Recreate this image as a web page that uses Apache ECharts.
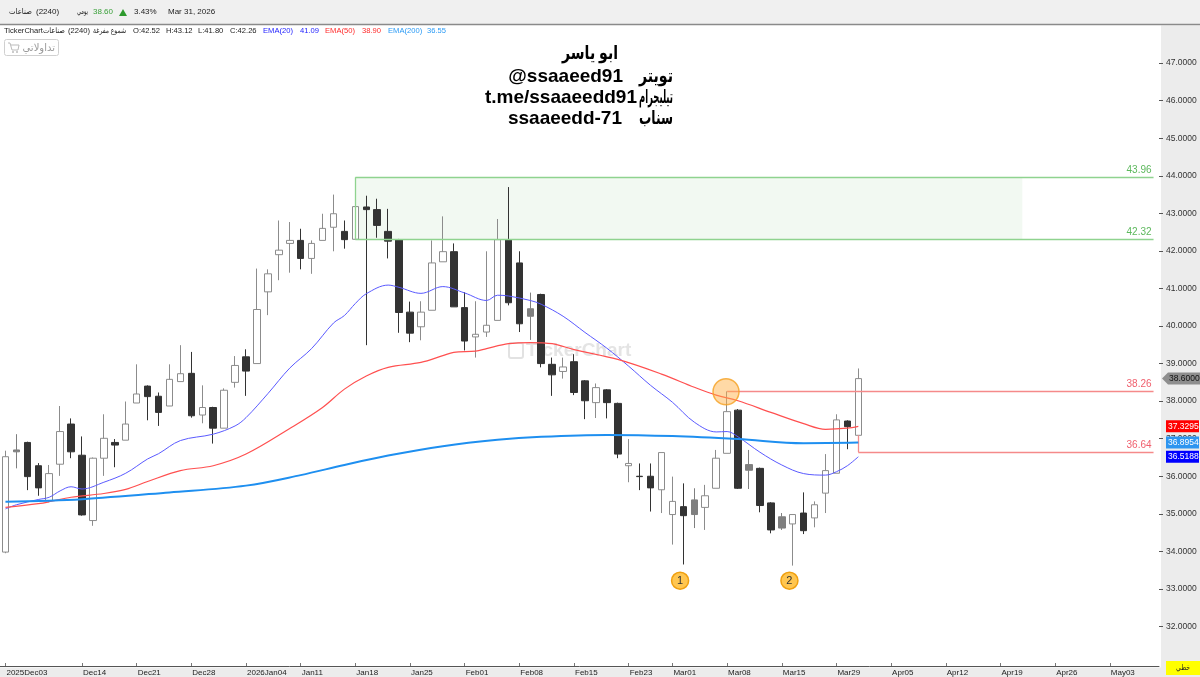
<!DOCTYPE html>
<html><head><meta charset="utf-8">
<script src="https://cdn.jsdelivr.net/npm/echarts@6/dist/echarts.min.js"></script>
<style>html,body{margin:0;padding:0;background:#fff}#c{width:1200px;height:677px}</style>
</head><body><div id="c"></div>
<script>
// ---------- DATA ----------
const dates = [
'2025-12-03','2025-12-04','2025-12-07','2025-12-08','2025-12-09','2025-12-10','2025-12-11',
'2025-12-14','2025-12-15','2025-12-16','2025-12-17','2025-12-18',
'2025-12-21','2025-12-22','2025-12-23','2025-12-24','2025-12-25',
'2025-12-28','2025-12-29','2025-12-30','2025-12-31','2026-01-01',
'2026-01-04','2026-01-05','2026-01-06','2026-01-07','2026-01-08',
'2026-01-11','2026-01-12','2026-01-13','2026-01-14','2026-01-15',
'2026-01-18','2026-01-19','2026-01-20','2026-01-21','2026-01-22',
'2026-01-25','2026-01-26','2026-01-27','2026-01-28','2026-01-29',
'2026-02-01','2026-02-02','2026-02-03','2026-02-04','2026-02-05',
'2026-02-08','2026-02-09','2026-02-10','2026-02-11','2026-02-12',
'2026-02-15','2026-02-16','2026-02-17','2026-02-18','2026-02-19',
'2026-02-23','2026-02-24','2026-02-25','2026-02-26',
'2026-03-01','2026-03-02','2026-03-03','2026-03-04','2026-03-05',
'2026-03-08','2026-03-09','2026-03-10','2026-03-11','2026-03-12',
'2026-03-15','2026-03-16','2026-03-17','2026-03-18','2026-03-19',
'2026-03-29','2026-03-30','2026-03-31',
'2026-04-01','2026-04-02',
'2026-04-05','2026-04-06','2026-04-07','2026-04-08','2026-04-09',
'2026-04-12','2026-04-13','2026-04-14','2026-04-15','2026-04-16',
'2026-04-19','2026-04-20','2026-04-21','2026-04-22','2026-04-23',
'2026-04-26','2026-04-27','2026-04-28','2026-04-29','2026-04-30',
'2026-05-03','2026-05-04','2026-05-05','2026-05-06','2026-05-07'
];
const tickDates = ['2025-12-03','2025-12-14','2025-12-21','2025-12-28','2026-01-04','2026-01-11','2026-01-18','2026-01-25','2026-02-01','2026-02-08','2026-02-15','2026-02-23','2026-03-01','2026-03-08','2026-03-15','2026-03-29','2026-04-05','2026-04-12','2026-04-19','2026-04-26','2026-05-03'];
const tickTexts = ['2025Dec03','Dec14','Dec21','Dec28','2026Jan04','Jan11','Jan18','Jan25','Feb01','Feb08','Feb15','Feb23','Mar01','Mar08','Mar15','Mar29','Apr05','Apr12','Apr19','Apr26','May03'];

const open  = [33.98,36.70,36.90,36.28,35.35,36.32,37.39,36.56,34.82,36.48,36.90,36.96,37.95,38.40,38.13,37.87,38.52,38.74,37.63,37.83,
               37.28,38.50,39.18,39.00,40.91,41.90,42.20,42.28,41.80,42.28,42.63,42.52,42.31,43.17,43.10,42.52,42.30,40.37,39.98,40.42,
               41.71,41.98,40.49,39.71,39.84,40.15,42.30,41.68,40.46,40.84,38.98,38.79,39.05,38.54,37.96,38.30,37.94,36.28,36.00,36.00,
               35.64,34.98,35.19,34.98,35.17,35.68,36.61,37.76,36.31,36.21,35.29,34.92,34.73,35.02,34.89,35.55,36.08,37.47,37.09];
const high  = [36.68,37.12,36.92,36.35,36.30,37.87,37.54,37.06,36.50,37.65,36.99,37.99,38.98,38.42,38.23,38.98,39.49,39.31,38.42,37.85,
               38.34,39.20,39.38,41.53,41.51,42.81,42.77,42.59,42.28,42.99,43.50,42.81,43.20,43.47,43.39,43.12,42.32,40.65,40.66,42.28,
               42.92,42.20,40.90,40.66,41.99,42.85,43.70,41.99,40.89,40.86,39.16,39.16,39.25,38.56,38.47,38.32,37.96,36.99,36.34,36.34,
               36.63,35.99,35.81,35.68,35.77,36.70,38.26,37.79,36.70,36.23,35.31,35.02,34.98,35.57,35.33,36.59,37.65,37.49,38.87];
const low   = [33.95,36.21,35.63,35.48,35.31,36.01,36.48,34.95,34.68,36.01,36.24,36.96,37.95,37.49,37.34,37.87,38.52,37.56,37.41,36.87,
               37.28,38.36,38.14,39.00,40.29,41.22,41.42,41.51,41.39,42.28,41.99,42.06,42.31,39.49,42.35,41.80,39.82,39.57,39.62,40.42,
               41.71,40.51,39.35,39.16,39.71,40.15,40.55,39.84,39.63,38.90,38.14,38.60,38.16,37.52,37.55,37.54,36.48,35.84,35.63,35.06,
               35.02,34.18,33.65,34.62,34.57,35.68,36.61,35.66,35.66,35.04,34.48,34.57,33.62,34.46,34.64,35.02,36.08,36.72,37.09];
const close = [36.52,36.65,35.99,35.69,36.07,37.19,36.65,34.97,36.48,37.01,36.83,37.39,38.19,38.12,37.70,38.58,38.73,37.61,37.83,37.28,
               38.29,38.95,38.80,40.44,41.39,42.02,42.28,41.80,42.20,42.60,42.99,42.30,43.18,43.10,42.68,42.26,40.36,39.81,40.37,41.68,
               41.98,40.51,39.60,39.78,40.02,42.30,40.62,40.06,40.26,39.00,38.70,38.91,38.23,38.01,38.36,37.96,36.59,36.34,35.99,35.69,
               36.63,35.33,34.95,35.37,35.48,36.48,37.72,35.68,36.16,35.22,34.57,34.62,34.98,34.55,35.24,36.15,37.50,37.32,38.60];
const grayCandles = [1, 48, 63, 68, 71];

// EMA readings: [candle index, value]
const ema20 = [[0,35.13],[1,35.24],[3,35.38],[4,35.44],[5,35.61],[6,35.72],[7,35.66],[9,35.84],[11,36.08],[13,36.46],[14,36.60],[16,36.95],
  [19,37.12],[21,37.34],[22,37.56],[24,38.20],[26,38.88],[28,39.40],[30,40.08],[31,40.28],[32,40.60],[33,40.86],[35,41.09],[36,41.03],[38,40.87],[40,41.05],
  [42,40.88],[44,40.68],[45,40.82],[46,40.80],[48,40.68],[49,40.58],[51,40.26],[53,39.83],[55,39.41],[57,38.93],[59,38.42],[61,37.97],
  [63,37.44],[65,37.18],[66,37.19],[67,37.05],[69,36.64],[71,36.30],[73,36.07],[75,36.03],[76,36.12],[77,36.28],[78,36.5188]];
const ema50 = [[0,35.17],[3,35.27],[4,35.32],[6,35.44],[9,35.54],[11,35.65],[13,35.86],[16,36.15],[19,36.28],[22,36.59],[26,37.27],
  [29,37.83],[31,38.32],[33,38.67],[35,38.90],[38,39.03],[40,39.21],[41,39.30],[43,39.33],[44,39.40],[46,39.53],[48,39.56],[50,39.53],
  [52,39.37],[56,39.11],[60,38.72],[63,38.37],[65,38.16],[67,38.01],[70,37.70],[73,37.40],[75,37.25],[77,37.28],[78,37.3295]];
const ema200 = [[0,35.32],[7,35.39],[15,35.57],[22,35.75],[27,36.03],[31,36.30],[35,36.55],[40,36.80],[45,36.97],[49,37.05],
  [55,37.10],[61,37.07],[67,36.99],[73,36.88],[78,36.8954]];

const greenLevels = [43.96, 42.32];
const redLevels = [38.26, 36.64];
const markers = [{name:'1', x:61.7, y:33.22}, {name:'2', x:71.7, y:33.22}];
const highlight = [[65.9, 38.25]];

// ---------- CHART ----------
const FF = 'Liberation Sans, DejaVu Sans, sans-serif';
const chart = echarts.init(document.getElementById('c'), null, {renderer:'canvas'});
const N = dates.length;

const candleData = open.map((o,i) => {
  const v = [o, close[i], low[i], high[i]];
  if (grayCandles.includes(i)) {
    return {value:v, itemStyle:{color:'#7f7f7f', color0:'#7f7f7f', borderColor:'#7f7f7f', borderColor0:'#7f7f7f'}};
  }
  return v;
});

const last = close.length - 1;
const zoneStart = 32, zoneEnd = 93, lineEnd = N - 1;
function lvlLine(x0, v, color, labelColor) {
  return [
    {coord:[dates[x0], v], lineStyle:{color:color, width:1.3, type:'solid'},
     label:{show:true, position:'insideEndTop', formatter:v.toFixed(2), color:labelColor, fontSize:10, fontFamily:FF, distance:2}},
    {coord:[dates[lineEnd], v], lineStyle:{color:color, width:1.3, type:'solid'}}
  ];
}
function vLine(x, v1, v2, color) {
  return [
    {coord:[dates[x], v1], lineStyle:{color:color, width:1.3, type:'solid'}, label:{show:false}},
    {coord:[dates[x], v2], lineStyle:{color:color, width:1.3, type:'solid'}}
  ];
}

const option = {
  animation:false,
  backgroundColor:'#ffffff',
  textStyle:{fontFamily:FF},
  grid:{left:0, top:25.6, width:1159, height:639.7, containLabel:false},
  xAxis:[{
    type:'category', data:dates, boundaryGap:true, offset:2,
    axisLine:{show:true, onZero:false, lineStyle:{color:'#555', width:1}},
    axisTick:{show:true, inside:true, length:3, alignWithLabel:true, lineStyle:{color:'#777'},
      interval:(i,v)=>tickDates.indexOf(v)>=0},
    axisLabel:{show:true, align:'left', margin:3, fontSize:8, color:'#222', fontFamily:FF, padding:[0,0,0,1],
      interval:(i,v)=>tickDates.indexOf(v)>=0,
      formatter:(v)=>{const k=tickDates.indexOf(v); return k>=0?tickTexts[k]:'';}},
    splitLine:{show:false}
  },{
    type:'value', min:-0.5, max:N-0.5, show:false, axisLine:{onZero:false}
  }],
  yAxis:[{
    type:'value', position:'right', min:31, max:48, interval:1, scale:false,
    axisLine:{show:false, onZero:false},
    axisTick:{show:true, length:4, lineStyle:{color:'#555'}},
    axisLabel:{show:true, margin:7, fontSize:8.5, color:'#333', fontFamily:FF, showMinLabel:false, showMaxLabel:false,
      formatter:(v)=>v.toFixed(4)},
    splitLine:{show:false}
  }],
  series:[
    {
      type:'candlestick', name:'price', xAxisIndex:0, yAxisIndex:0, barWidth:7, z:3,
      itemStyle:{color:'#ffffff', color0:'#333333', borderColor:'#8c8c8c', borderColor0:'#333333', borderWidth:1},
      data:candleData,
      markArea:{silent:true, itemStyle:{color:'rgba(110,190,110,0.09)'},
        data:[[{coord:[dates[zoneStart], greenLevels[0]]},{coord:[dates[zoneEnd], greenLevels[1]]}]]},
      markLine:{silent:true, symbol:['none','none'], animation:false,
        data:[
          lvlLine(zoneStart, greenLevels[0], '#8fd38f', '#5cb85c'),
          lvlLine(zoneStart, greenLevels[1], '#8fd38f', '#5cb85c'),
          vLine(zoneStart, greenLevels[0], greenLevels[1], '#8fd38f'),
          lvlLine(66, redLevels[0], '#f58a8a', '#f0606e'),
          lvlLine(last, redLevels[1], '#f58a8a', '#f0606e'),
          vLine(last, open[last], redLevels[1], '#f58a8a')
        ]}
    },
    {type:'line', name:'EMA(20)', data:ema20, smooth:0.35, symbol:'none', z:5,
      lineStyle:{color:'#5a5aff', width:1}},
    {type:'line', name:'EMA(50)', data:ema50, smooth:0.35, symbol:'none', z:5,
      lineStyle:{color:'#ff5050', width:1.2}},
    {type:'line', name:'EMA(200)', data:ema200, smooth:0.35, symbol:'none', z:5,
      lineStyle:{color:'#1e8ff0', width:2}},
    {type:'scatter', xAxisIndex:1, yAxisIndex:0, z:8, symbolSize:26,
      itemStyle:{color:'rgba(255,175,70,0.6)', borderColor:'#f5a020', borderWidth:1.5},
      data:highlight},
    {type:'scatter', xAxisIndex:1, yAxisIndex:0, z:8, symbolSize:17,
      itemStyle:{color:'#ffc650', borderColor:'#f0a010', borderWidth:1.5, opacity:1},
      label:{show:true, position:'inside', formatter:(p)=>markers[p.dataIndex].name, color:'#333', fontSize:11, fontFamily:FF},
      data:markers.map(m=>[m.x, m.y])}
  ],
  graphic:[]
};
chart.setOption(option);

// ---------- static decorations ----------
const Y = (v)=>chart.convertToPixel({yAxisIndex:0}, v);
const mctx = document.createElement('canvas').getContext('2d');
function measure(text, font){ mctx.font = font; return mctx.measureText(text).width; }
// text right-aligned at xr, horizontally fitted to width w
function fitText(text, font, xr, y, w, color, z){
  const s = Math.min(1, w / measure(text, font));
  return {type:'text', z:z||10, x:xr, y:y, scaleX:s, originX:0, originY:0,
    style:{x:0, y:0, text:text, fill:color, font:font, textAlign:'right', textVerticalAlign:'middle'}};
}
const g = [];
g.push({type:'rect', z:-100, shape:{x:0,y:0,width:1200,height:24}, style:{fill:'#f0f0f0'}});
g.push({type:'line', z:-90, shape:{x1:0,y1:24.5,x2:1200,y2:24.5}, style:{stroke:'#8a8a8a', lineWidth:1.5}});
g.push({type:'rect', z:-100, shape:{x:1161,y:25.5,width:39,height:652}, style:{fill:'#ececec'}});
g.push({type:'rect', z:-100, shape:{x:0,y:667.5,width:1161,height:10}, style:{fill:'#ececec'}});
g.push({type:'rect', z:50, shape:{x:1166,y:661,width:34,height:14}, style:{fill:'#ffff00'}});
g.push(fitText('خطي', '8px DejaVu Sans', 1190, 668, 14, '#222', 51));

// header row 1
const h1 = '8px '+FF;
const hy = 12;
g.push(fitText('صناعات', h1, 32, hy, 23, '#222'));
g.push({type:'text', style:{x:36,y:hy,text:'(2240)',fill:'#222',font:h1,textVerticalAlign:'middle'}});
g.push(fitText('يومي', h1, 88, hy, 11, '#222'));
g.push({type:'text', style:{x:93,y:hy,text:close[last].toFixed(2),fill:'#3aa03a',font:h1,textVerticalAlign:'middle'}});
g.push({type:'polygon', shape:{points:[[119,16],[127,16],[123,9]]}, style:{fill:'#2e9a2e'}});
g.push({type:'text', style:{x:134,y:hy,text:((close[last]/close[last-1]-1)*100).toFixed(2)+'%',fill:'#222',font:h1,textVerticalAlign:'middle'}});
g.push({type:'text', style:{x:168,y:hy,text:'Mar 31, 2026',fill:'#222',font:h1,textVerticalAlign:'middle'}});

// header row 2
const h2 = '7.6px '+FF;
const ry = 31;
g.push({type:'text', style:{x:4,y:ry,text:'TickerChart',fill:'#222',font:h2,textVerticalAlign:'middle'}});
g.push(fitText('صناعات', h2, 65, ry, 22, '#222'));
g.push({type:'text', style:{x:68,y:ry,text:'(2240)',fill:'#222',font:h2,textVerticalAlign:'middle'}});
g.push(fitText('شموع مفرغة', h2, 126, ry, 33, '#222'));
const row2 = [
  [133,'O:'+open[35].toFixed(2),'#222'],[166,'H:'+high[35].toFixed(2),'#222'],[198,'L:'+low[35].toFixed(2),'#222'],[230,'C:'+close[35].toFixed(2),'#222'],
  [263,'EMA(20)','#2222ff'],[300,'41.09','#2222ff'],[325,'EMA(50)','#ff2a2a'],[362,'38.90','#ff2a2a'],
  [388,'EMA(200)','#2a9af5'],[427,'36.55','#2a9af5']
];
row2.forEach(r=>g.push({type:'text', style:{x:r[0],y:ry,text:r[1],fill:r[2],font:h2,textVerticalAlign:'middle'}}));

// button
g.push({type:'rect', shape:{x:4.5,y:39.5,width:54,height:16,r:2}, style:{fill:'#fff',stroke:'#d0d0d0',lineWidth:1}});
g.push(fitText('تداولاتي', '10px DejaVu Sans', 55, 48, 33, '#9a9a9a'));
g.push({type:'polyline', shape:{points:[[8,43],[10,43],[12,50],[18,50],[19,45],[11,45]]}, style:{stroke:'#bbb',fill:null,lineWidth:1}});
g.push({type:'circle', shape:{cx:13,cy:52,r:1}, style:{fill:'#bbb'}});
g.push({type:'circle', shape:{cx:17,cy:52,r:1}, style:{fill:'#bbb'}});

// title
const tf = 'bold 19px '+FF;
g.push(fitText('ابو ياسر', tf, 618, 54, 56, '#000', 20));
g.push({type:'text', z:20, style:{x:623,y:77,text:'@ssaaeed91',fill:'#000',font:tf,textAlign:'right',textVerticalAlign:'middle'}});
g.push(fitText('تويتر', tf, 673, 77, 34, '#000', 20));
g.push({type:'text', z:20, style:{x:637,y:98,text:'t.me/ssaaeedd91',fill:'#000',font:tf,textAlign:'right',textVerticalAlign:'middle'}});
g.push(fitText('تيليجرام', tf, 673, 98, 34, '#000', 20));
g.push({type:'text', z:20, style:{x:622,y:119,text:'ssaaeedd-71',fill:'#000',font:tf,textAlign:'right',textVerticalAlign:'middle'}});
g.push(fitText('سناب', tf, 673, 119, 34, '#000', 20));

// watermark
g.push({type:'rect', z:-50, shape:{x:509,y:343,width:14,height:15,r:2}, style:{fill:null,stroke:'#e2e2e2',lineWidth:2}});
g.push({type:'text', z:-50, style:{x:526,y:351,text:'TickerChart',fill:'#e4e4e4',font:'bold 19px '+FF,textVerticalAlign:'middle'}});

// right-axis value tags
const tags = [
  {v:close[last], bg:'#8e8e8e', fg:'#111', arrow:true},
  {v:ema50[ema50.length-1][1], bg:'#ff0000', fg:'#fff'},
  {v:ema200[ema200.length-1][1], bg:'#2d95f0', fg:'#fff'},
  {v:ema20[ema20.length-1][1], bg:'#0000ff', fg:'#fff'}
];
tags.forEach(t=>{
  const y = Y(t.v);
  if (t.arrow) {
    g.push({type:'polygon', z:60, shape:{points:[[1162,y],[1168,y-6],[1200,y-6],[1200,y+6],[1168,y+6]]}, style:{fill:t.bg}});
    g.push({type:'text', z:61, style:{x:1169,y:y,text:t.v.toFixed(4),fill:t.fg,font:'8.5px '+FF,textVerticalAlign:'middle'}});
  } else {
    g.push({type:'rect', z:60, shape:{x:1166,y:y-6,width:33,height:12}, style:{fill:t.bg}});
    g.push({type:'text', z:61, style:{x:1168,y:y,text:t.v.toFixed(4),fill:t.fg,font:'8.5px '+FF,textVerticalAlign:'middle'}});
  }
});
chart.setOption({graphic:g});
</script></body></html>
